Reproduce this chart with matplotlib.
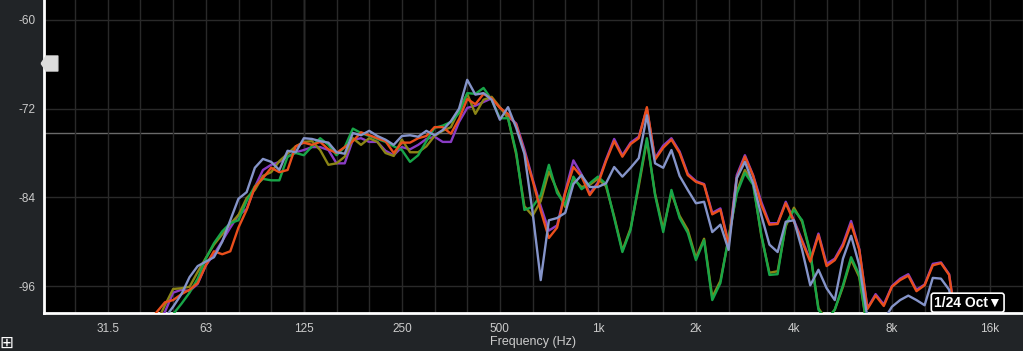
import numpy as np
import matplotlib
matplotlib.use("Agg")
import matplotlib.pyplot as plt
from matplotlib.path import Path
from matplotlib.ticker import FixedLocator, NullFormatter

plt.rcParams['font.family'] = ['Liberation Sans', 'DejaVu Sans']

# 1/12 octave bins, Hz
freq = [41.7, 44.2, 46.8, 49.6, 52.6, 55.7, 59.0,
        62.5, 66.2, 70.2, 74.3, 78.7, 83.4, 88.4, 93.6, 99.2, 105.1, 111.4, 118.0,
        125, 132.4, 140.3, 148.7, 157.5, 166.9, 176.8, 187.3, 198.4, 210.2, 222.7, 236.0,
        250, 264.9, 280.6, 297.3, 315.0, 333.7, 353.6, 374.6, 396.9, 420.4, 445.4, 471.9,
        500, 529.7, 561.2, 594.6, 630.0, 667.4, 707.1, 749.2, 793.7, 840.9, 890.9, 943.9,
        1000, 1059, 1122, 1189, 1260, 1335, 1414, 1498, 1587, 1682, 1782, 1888,
        2000, 2119, 2245, 2378, 2520, 2670, 2828, 2997, 3175, 3364, 3564, 3775,
        4000, 4238, 4490, 4757, 5040, 5339, 5657, 5993, 6350, 6727, 7127, 7551,
        8000, 8476, 8980, 9514, 10079, 10679, 11314, 11986, 12699]

red = [-101.0, -99.5, -98.2, -97.9, -97.1, -96.5, -95.6,
       -93.2, -91.3, -91.7, -91.3, -88.1, -85.7, -82.6, -81.4, -80.0, -80.6, -80.3, -77.1,
       -76.6, -76.9, -76.5, -77.5, -78.0, -77.2, -76.4, -75.2, -75.6, -76.0, -76.4, -78.0,
       -76.6, -76.6, -76.0, -75.7, -74.5, -74.5, -75.4, -73.4, -70.7, -71.4, -70.0, -70.6,
       -71.9, -72.7, -74.2, -77.9, -81.7, -85.8, -89.5, -88.1, -83.4, -79.9, -81.2, -83.7,
       -82.2, -79.1, -76.4, -78.5, -76.8, -76.0, -71.8, -78.9, -77.3, -76.2, -78.0, -81.0,
       -81.9, -82.3, -86.3, -85.7, -90.4, -81.4, -78.5, -81.1, -85.0, -87.7, -87.6, -84.8,
       -87.3, -90.0, -92.7, -89.1, -93.3, -92.5, -90.6, -87.6, -91.1, -99.1, -97.3, -98.7,
       -96.1, -95.2, -94.6, -96.7, -95.9, -93.2, -92.9, -94.5, -102.0]

purple = [-102.0, -100.9, -99.5, -96.9, -96.5, -96.7, -95.7,
          -93.2, -91.7, -89.9, -88.1, -86.4, -85.6, -82.6, -80.3, -79.6, -79.2, -78.5, -77.9,
          -77.6, -77.2, -77.2, -77.6, -79.4, -79.4, -76.2, -76.0, -76.5, -76.5, -77.7, -78.3,
          -77.2, -77.5, -76.9, -76.1, -75.8, -76.5, -76.5, -73.8, -71.9, -71.6, -71.1, -70.6,
          -71.8, -73.1, -74.0, -77.5, -81.5, -85.2, -88.5, -87.8, -83.2, -79.0, -80.9, -83.5,
          -82.0, -78.9, -76.1, -78.3, -76.6, -75.8, -72.0, -78.7, -77.0, -76.0, -77.8, -80.8,
          -81.8, -82.2, -86.1, -85.5, -90.2, -81.0, -78.3, -81.0, -84.6, -87.5, -87.5, -84.6,
          -87.1, -89.8, -92.5, -88.9, -93.0, -92.3, -90.3, -87.2, -91.0, -99.0, -97.1, -98.5,
          -96.0, -95.0, -94.4, -96.5, -95.8, -93.0, -92.8, -94.4, -102.0]

green = [-104.0, -102.6, -100.9, -99.8, -98.4, -96.9, -95.0,
         -92.3, -90.2, -88.6, -87.5, -87.1, -84.5, -82.5, -81.5, -81.7, -81.7, -78.5, -78.0,
         -78.3, -77.1, -76.0, -76.9, -78.3, -77.2, -74.7, -75.3, -75.7, -76.1, -76.5, -77.1,
         -77.6, -79.2, -78.3, -76.4, -74.6, -74.3, -73.8, -72.6, -69.9, -70.0, -69.2, -70.8,
         -73.3, -73.3, -77.9, -85.7, -85.3, -83.7, -79.6, -83.4, -85.0, -81.2, -82.9, -82.1,
         -81.2, -82.2, -86.8, -91.4, -88.4, -82.1, -76.0, -83.7, -88.7, -83.0, -86.8, -88.8,
         -92.5, -89.8, -97.9, -95.6, -89.4, -83.5, -80.7, -82.3, -89.0, -94.5, -94.4, -87.6,
         -85.7, -87.1, -91.4, -99.2, -100.6, -99.2, -95.9, -92.1, -94.5, -102.0, -103.3, -103.3,
         -103.3, -103.3, -103.3, -103.3, -103.3, -103.3, -103.3, -103.3, -103.3]

olive = [-102.0, -100.9, -98.6, -96.4, -96.3, -96.1, -94.1,
         -92.2, -90.4, -89.0, -87.6, -86.4, -84.1, -83.0, -81.1, -80.6, -79.1, -78.1, -77.1,
         -76.5, -76.4, -77.6, -79.6, -79.4, -78.5, -76.0, -76.9, -76.0, -76.5, -78.0, -78.4,
         -76.2, -77.9, -77.9, -77.1, -75.7, -75.0, -74.5, -72.2, -70.0, -72.7, -70.8, -70.4,
         -71.8, -73.3, -78.2, -85.2, -86.5, -84.5, -80.5, -83.0, -85.3, -81.5, -82.6, -82.3,
         -81.5, -82.5, -86.6, -91.2, -88.2, -82.5, -76.3, -83.5, -88.3, -83.4, -86.5, -88.4,
         -92.2, -89.6, -97.5, -95.3, -89.6, -83.2, -80.3, -82.0, -89.2, -94.2, -94.0, -87.9,
         -85.4, -87.3, -91.6, -99.0, -100.6, -99.2, -96.1, -92.4, -94.8, -102.0, -103.3, -103.3,
         -103.3, -103.3, -103.3, -103.3, -103.3, -103.3, -103.3, -103.3, -103.3]

blue = [-102.6, -101.3, -100.3, -98.8, -97.1, -94.8, -93.3,
        -92.7, -92.1, -90.0, -87.1, -84.2, -83.3, -80.0, -78.8, -79.2, -80.3, -77.7, -77.9,
        -76.0, -76.1, -76.4, -76.6, -77.9, -78.1, -75.3, -75.6, -75.0, -75.7, -76.2, -76.9,
        -75.7, -75.6, -75.8, -75.0, -75.6, -74.9, -73.7, -72.0, -68.1, -70.1, -69.9, -70.8,
        -73.5, -71.8, -74.6, -78.1, -86.0, -95.2, -87.1, -86.8, -86.1, -82.2, -81.0, -82.6,
        -82.6, -82.1, -79.9, -81.2, -80.0, -78.7, -72.9, -79.4, -80.0, -77.6, -81.1, -83.0,
        -84.8, -84.6, -88.7, -87.7, -91.1, -81.4, -79.2, -82.1, -86.4, -90.4, -91.4, -87.3,
        -87.1, -91.1, -95.9, -93.8, -96.3, -97.9, -92.3, -89.2, -93.2, -100.3, -100.6, -100.6,
        -98.8, -97.9, -97.3, -97.9, -98.6, -94.9, -95.0, -96.5, -102.0]

octave_ticks = [31.25, 62.5, 125, 250, 500, 1000, 2000, 4000, 8000, 16000]
octave_labels = ['31.5', '63', '125', '250', '500', '1k', '2k', '4k', '8k', '16k']
db_ticks = [-60, -72, -84, -96]

cursor_f = 125
cursor_db = -75.3
handle_db = -65.8

fig = plt.figure(figsize=(10.23, 3.51), dpi=100, facecolor='#212427')
ax = fig.add_axes([44 / 1023, 38 / 351, 1 - 44 / 1023, 1 - 38 / 351])
ax.set_facecolor('black')
ax.set_xscale('log')
ax.set_xlim(19.9, 20210)
ax.set_ylim(-99.65, -57.3)

# third-octave grid, labels on octaves only
third = [1000 * 2 ** (n / 3) for n in range(-16, 15)]
ax.xaxis.set_major_locator(FixedLocator(octave_ticks))
ax.xaxis.set_minor_locator(FixedLocator(third))
ax.xaxis.set_minor_formatter(NullFormatter())
ax.set_xticklabels(octave_labels)
ax.set_yticks(db_ticks)
ax.set_yticklabels([str(v) for v in db_ticks])
ax.grid(True, which='both', axis='x', color='#292929', lw=1)
ax.grid(True, which='major', axis='y', color='#292929', lw=1)
ax.tick_params(which='both', length=0, colors='#cccccc', labelsize=8.5)
ax.tick_params(axis='x', pad=7)
ax.tick_params(axis='y', pad=6)

for s in ['top', 'right']:
    ax.spines[s].set_visible(False)
for s in ['left', 'bottom']:
    ax.spines[s].set_color('white')
    ax.spines[s].set_linewidth(2)

ax.axvline(cursor_f, color='#5a5a5a', lw=1, zorder=1)
ax.axhline(cursor_db, color='#6a6a6a', lw=1, zorder=1)

series = [(purple, '#8a3cc4'), (olive, '#8b8516'), (green, '#18a548'),
          (red, '#ea4f1c'), (blue, '#8594c9')]
for vals, col in series:
    ax.plot(freq, vals, color=col, lw=1.7, zorder=3, solid_joinstyle='round')

handle = Path([(-1, 0), (-0.4, 0.9), (1, 0.9), (1, -0.9), (-0.4, -0.9), (-1, 0)])
ax.plot([0.0055], [handle_db], transform=ax.get_yaxis_transform(), marker=handle,
        markersize=12, color='#dcdcdc', clip_on=False, zorder=5)

ax.text(0.9435, 0.033, '1/24 Oct\u25BC', transform=ax.transAxes, ha='center', va='center',
        color='white', fontsize=10, fontweight='bold', zorder=6,
        bbox=dict(boxstyle='round,pad=0.18', fc='black', ec='white', lw=1.2))

fig.text(533.5 / 1023, 1 - 342 / 351, 'Frequency (Hz)', color='#cccccc', fontsize=9,
         ha='center', va='center')
fig.text(6 / 1023, 1 - 343 / 351, '\u229E', color='white', fontsize=12,
         ha='center', va='center', family='DejaVu Sans')

fig.savefig('out.png', dpi=100, facecolor=fig.get_facecolor())
